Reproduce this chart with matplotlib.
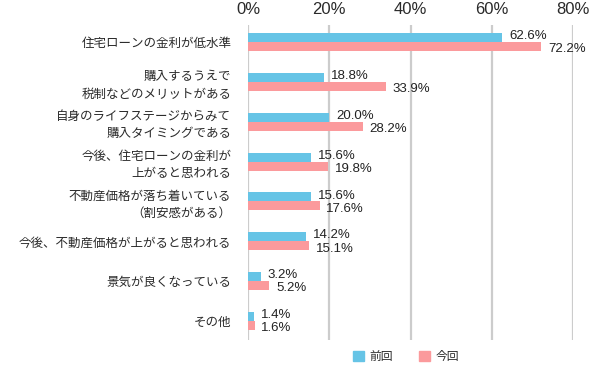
import matplotlib
matplotlib.use("Agg")
import matplotlib.pyplot as plt
from matplotlib.patches import Patch
import numpy as np

plt.rcParams['font.family'] = ['Noto Sans CJK JP', 'DejaVu Sans']

categories = [
    "住宅ローンの金利が低水準",
    "購入するうえで\n税制などのメリットがある",
    "自身のライフステージからみて\n購入タイミングである",
    "今後、住宅ローンの金利が\n上がると思われる",
    "不動産価格が落ち着いている\n（割安感がある）",
    "今後、不動産価格が上がると思われる",
    "景気が良くなっている",
    "その他",
]
previous = [62.6, 18.8, 20.0, 15.6, 15.6, 14.2, 3.2, 1.4]
current = [72.2, 33.9, 28.2, 19.8, 17.6, 15.1, 5.2, 1.6]
series_names = ["前回", "今回"]
xticks = [0, 20, 40, 60, 80]
xtick_labels = ["0%", "20%", "40%", "60%", "80%"]

blue = "#66c4e6"
pink = "#fb9a9c"
grid_c = "#cccccc"
text_c = "#2a2a2a"
num_font = ['Liberation Sans', 'DejaVu Sans']

W, H = 602, 365
fig = plt.figure(figsize=(W / 100, H / 100), dpi=100)
left, right, top, bottom = 248, 573, 25, 340
ax = fig.add_axes([left / W, 1 - bottom / H, (right - left) / W, (bottom - top) / H])

y = np.arange(len(categories))
bh = 0.226
ax.barh(y - bh / 2, previous, height=bh, color=blue, zorder=3)
ax.barh(y + bh / 2, current, height=bh, color=pink, zorder=3)

ax.set_xlim(0, 80)
ax.set_ylim(7.476, -0.4265)

for s in ax.spines.values():
    s.set_visible(False)
for xt in xticks:
    ax.axvline(xt, color=grid_c, lw=1.6, zorder=1)

ax.xaxis.tick_top()
ax.set_xticks(xticks)
ax.set_xticklabels(xtick_labels, fontsize=12, color=text_c, family=num_font)
ax.tick_params(axis='x', length=0, pad=6)
ax.set_yticks(y)
ax.set_yticklabels(categories, fontsize=9, color=text_c, linespacing=1.4)
ax.tick_params(axis='y', length=0, pad=12)

for i in range(len(categories)):
    ax.annotate(f"{previous[i]:.1f}%", (previous[i], y[i] - bh / 2), xytext=(5, 1),
                textcoords='offset points', va='center', ha='left', fontsize=9.5,
                color="#222222", family=num_font, clip_on=False)
    ax.annotate(f"{current[i]:.1f}%", (current[i], y[i] + bh / 2), xytext=(5, -2),
                textcoords='offset points', va='center', ha='left', fontsize=9.5,
                color="#222222", family=num_font, clip_on=False)

handles = [Patch(color=blue), Patch(color=pink)]
fig.legend(handles, series_names, loc='center', bbox_to_anchor=(0.675, 0.024), ncol=2,
           frameon=False, fontsize=8.5, handlelength=0.9, handleheight=0.9,
           handletextpad=0.5, columnspacing=2.2, labelcolor=text_c)

fig.savefig("out.png", dpi=100)
